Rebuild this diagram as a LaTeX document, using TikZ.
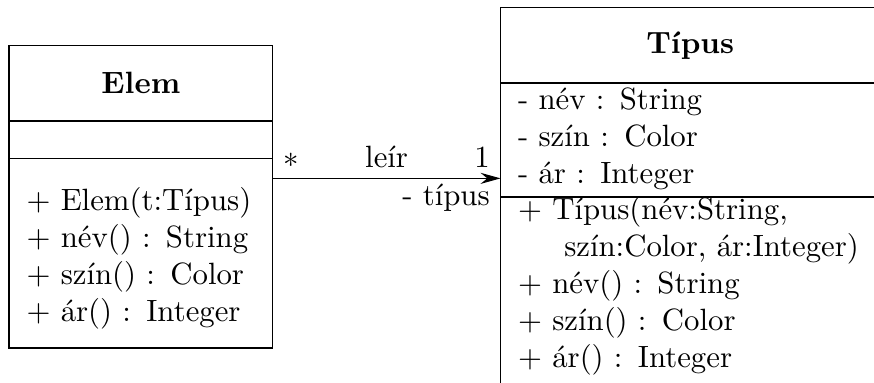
\documentclass[tikz,border=0pt]{standalone}
\usetikzlibrary{positioning,arrows.meta}

\begin{document}
\begin{tikzpicture}
  \tikzset{
    classname/.style={draw, outer sep=0pt, minimum height=0.86cm, font=\bfseries},
    members/.style={draw, outer sep=0pt, inner xsep=0.2cm, inner ysep=0pt, align=left},
    assoc/.style={-{Stealth[length=6.5pt, width=3.6pt, inset=2.2pt]}}
  }
  \useasboundingbox (0,0) rectangle (9.977,-4.372);

  % class Elem
  \node[classname, minimum width=3.01cm, anchor=north west] (elem) at (0.103,-0.522) {Elem};
  \node[members, text width=2.61cm, minimum height=0.429cm, below=0pt of elem] (elemattr) {};
  \node[members, text width=2.61cm, text height=17pt, text depth=44.5pt, below=0pt of elemattr] (elemops)
    {$+$ Elem(t:Típus)\\ $+$ név() : String\\ $+$ szín() : Color\\ $+$ ár() : Integer};

  % class Típus
  \node[classname, minimum width=4.33cm, anchor=north west] (tipus) at (5.714,-0.088) {Típus};
  \node[members, text width=3.93cm, text height=8.7pt, text depth=28.3pt, below=0pt of tipus] (tipusattr)
    {- név : String\\ - szín : Color\\ - ár : Integer};
  \node[members, text width=3.93cm, text height=7.4pt, text depth=80pt, below=0pt of tipusattr] (tipusops)
    {$+$ Típus(név:String,\\ \hspace*{1.5em}szín:Color,~ár:Integer)\\ $+$ név() : String\\ $+$ szín() : Color\\ $+$ ár() : Integer};

  % association Elem -> Típus
  \coordinate (linkstart) at ([yshift=-0.225cm]elemops.north east);
  \coordinate (linkend) at (tipusattr.west |- linkstart);
  \draw[assoc] (linkstart) -- node[above] (assocname) {leír}
    node[pos=0, above right] (multelem) {$*$}
    node[pos=1, above left] (multtipus) {1}
    node[pos=1, below left, inner ysep=1.5pt] (rolename) {- típus} (linkend);
\end{tikzpicture}
\end{document}
